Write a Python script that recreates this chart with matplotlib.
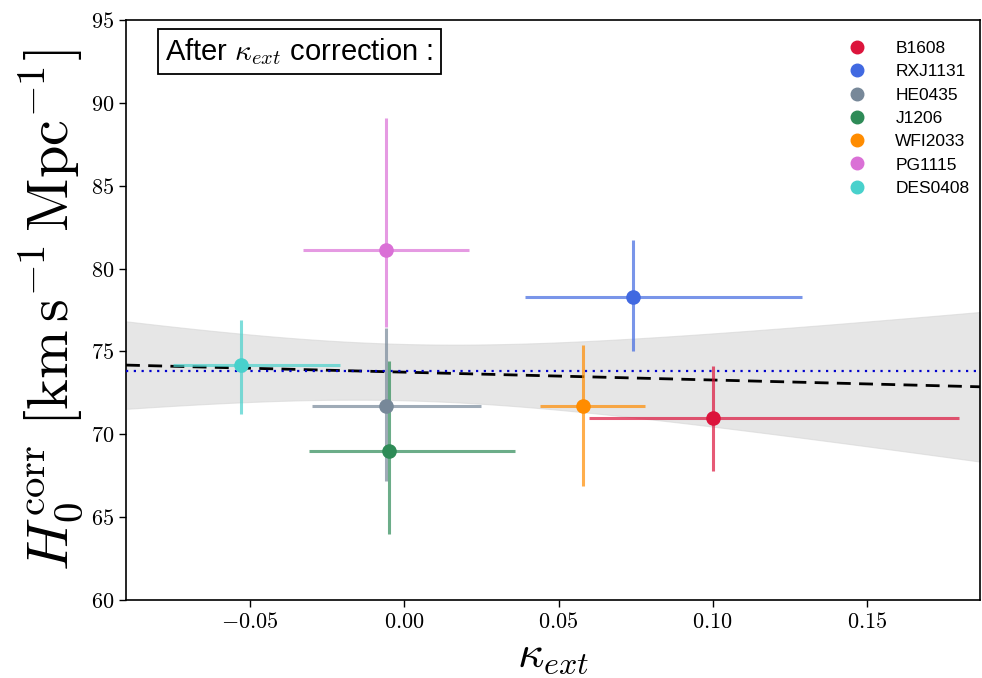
import numpy as np
import matplotlib
matplotlib.use("Agg")
import matplotlib.pyplot as plt
from matplotlib.ticker import FuncFormatter, MultipleLocator

plt.rcParams['mathtext.fontset'] = 'cm'
plt.rcParams['font.family'] = ['Liberation Sans', 'DejaVu Sans']

# Lens systems and their corrected H0 measurements
names = ['B1608', 'RXJ1131', 'HE0435', 'J1206', 'WFI2033', 'PG1115', 'DES0408']
colors = ['crimson', 'royalblue', 'lightslategray', 'seagreen',
          'darkorange', 'orchid', 'mediumturquoise']
kappa = [0.100, 0.074, -0.006, -0.005, 0.058, -0.006, -0.053]
kappa_lo = [0.040, 0.035, 0.024, 0.026, 0.014, 0.027, 0.022]
kappa_hi = [0.080, 0.055, 0.031, 0.041, 0.020, 0.027, 0.032]
h0 = [71.0, 78.3, 71.7, 69.0, 71.7, 81.1, 74.2]
h0_lo = [3.2, 3.3, 4.5, 5.0, 4.8, 4.6, 3.0]
h0_hi = [3.1, 3.4, 4.7, 5.4, 3.7, 8.0, 2.7]

# Linear fit H0 = a + b * kappa, with 1-sigma parameter uncertainties
fit_a, fit_b = 73.75, -4.73
fit_sa, fit_sb = 1.70, 22.4
h0_mean = 73.8

xlim = (-0.0903, 0.1867)
ylim = (60, 95)

fig = plt.figure(figsize=(9.82, 6.78), dpi=100)
ax = fig.add_axes([0.1283, 0.115, 0.8697, 0.8555])

xs = np.linspace(xlim[0], xlim[1], 300)
fit = fit_a + fit_b * xs
band = np.sqrt(fit_sa**2 + (fit_sb * xs)**2)
ax.fill_between(xs, fit - band, fit + band, color='lightgray', alpha=0.55,
                linewidth=0.8, zorder=1)
ax.plot(xs, fit, color='black', linestyle=(0, (5, 3)), linewidth=2.0, zorder=3)
ax.axhline(h0_mean, color='mediumblue', linestyle=(0, (1, 2.5)),
           linewidth=1.6, zorder=3)

for i, name in enumerate(names):
    ax.errorbar(kappa[i], h0[i],
                xerr=[[kappa_lo[i]], [kappa_hi[i]]],
                yerr=[[h0_lo[i]], [h0_hi[i]]],
                fmt='none', ecolor=colors[i], elinewidth=2.2, alpha=0.7,
                capsize=0, zorder=4)
    ax.plot(kappa[i], h0[i], 'o', color=colors[i], markersize=9.5,
            label=name, zorder=5, linestyle='none')

ax.set_xlim(*xlim)
ax.set_ylim(*ylim)
ax.xaxis.set_major_locator(MultipleLocator(0.05))
ax.yaxis.set_major_locator(MultipleLocator(5))
ax.xaxis.set_major_formatter(FuncFormatter(lambda v, p: r'$%.2f$' % v))
ax.yaxis.set_major_formatter(FuncFormatter(lambda v, p: r'$%d$' % round(v)))
ax.tick_params(axis='both', labelsize=16, length=5, width=1.0, direction='out')
for sp in ax.spines.values():
    sp.set_linewidth(1.2)

ax.set_xlabel(r'$\kappa_{ext}$', fontsize=33, labelpad=0)
ax.set_ylabel(r'$H_0^{\rm corr}$ $[\rm km\,s^{-1}\,Mpc^{-1}]$', fontsize=42,
              labelpad=4)

ax.text(0.046, 0.946, r'After $\kappa_{ext}$ correction :', transform=ax.transAxes,
        fontsize=21, ha='left', va='center',
        bbox=dict(boxstyle='square,pad=0.25', facecolor='white',
                  edgecolor='black', linewidth=1.3))

ax.legend(loc='upper right', bbox_to_anchor=(1.012, 1.0), frameon=False,
          fontsize=12.5, handletextpad=1.2, labelspacing=0.47,
          borderaxespad=0.8, markerscale=0.95)

fig.savefig('out.png', dpi=100)
